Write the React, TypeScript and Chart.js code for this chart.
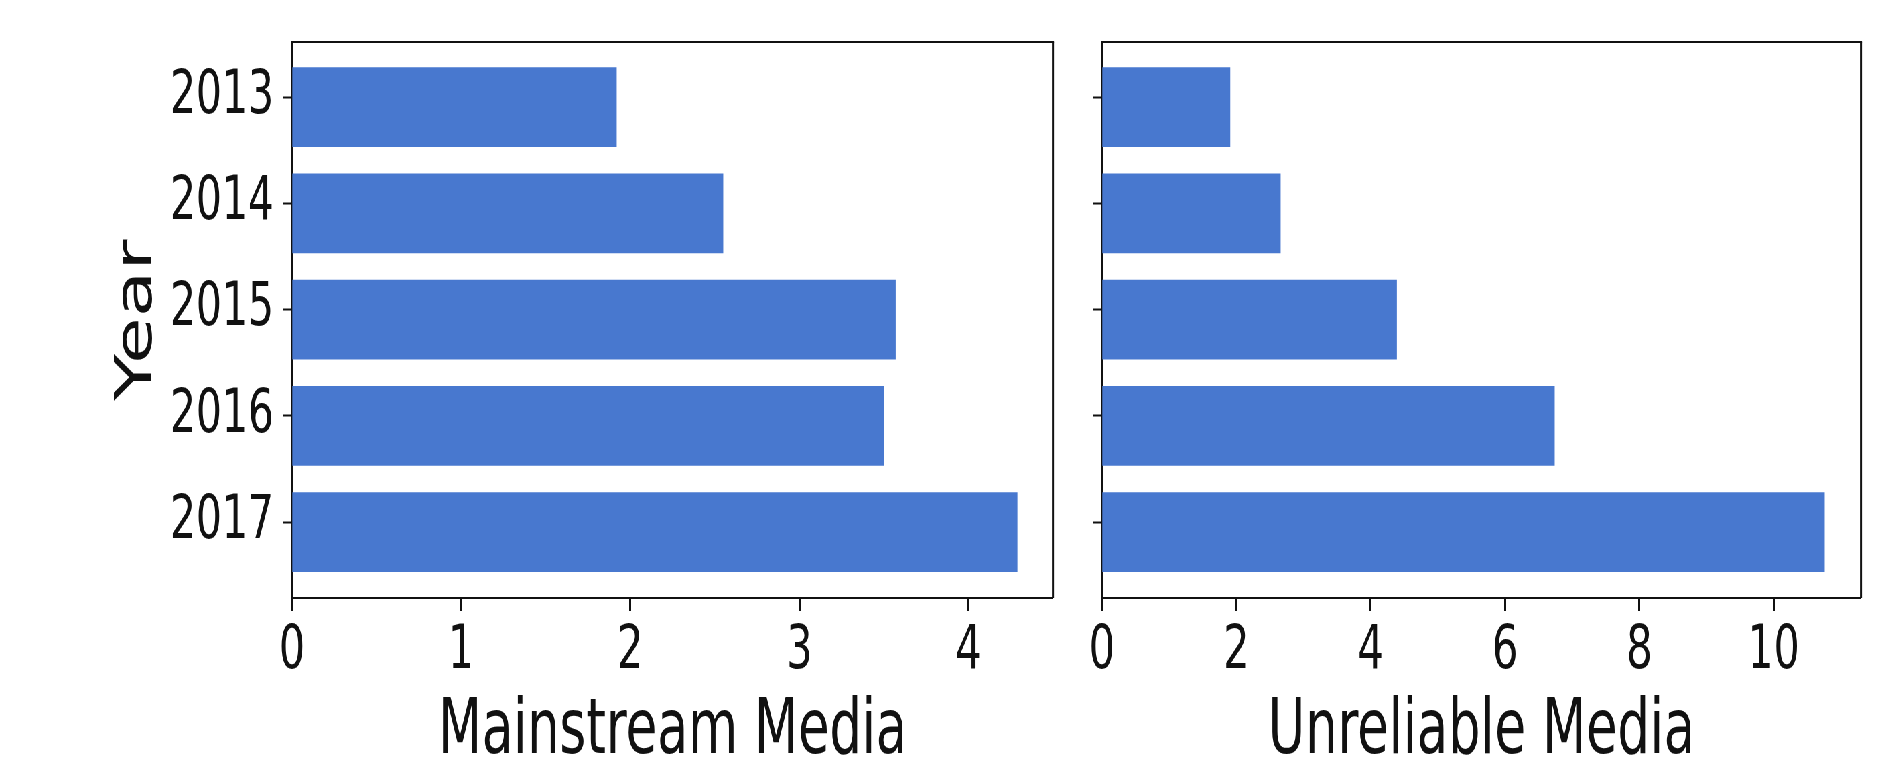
import React, { useEffect, useRef } from 'react';
import { Chart, registerables } from 'chart.js';

Chart.register(...registerables);

// ---- data ----
const years = ['2013', '2014', '2015', '2016', '2017'];
const mainstreamValues = [1.92, 2.55, 3.57, 3.5, 4.29];
const unreliableValues = [1.91, 2.66, 4.39, 6.74, 10.76];
const mainstreamTickValues = [0, 1, 2, 3, 4];
const unreliableTickValues = [0, 2, 4, 6, 8, 10];
const mainstreamMax = 4.5;
const unreliableMax = 11.3;
const yMin = -0.612;
const yMax = 4.62;
const yTickShift = 0.094;

// ---- layout (drawing units; the whole figure is squeezed horizontally) ----
const SQUEEZE = 0.67;
const FULL_W = 1887;
const FULL_H = 773;
const DRAW_W = Math.ceil(FULL_W / SQUEEZE);
const PLOT_TOP = 42;
const PLOT_BOTTOM = 598;
const LEFT_PLOT_L = 292 / SQUEEZE;
const LEFT_PLOT_R = 1053 / SQUEEZE;
const RIGHT_PLOT_L = 1102 / SQUEEZE;
const RIGHT_PLOT_R = 1861 / SQUEEZE;
const SPLIT = 1600;

const BAR_COLOR = '#4878CF';
const INK = '#111111';
const FONT = 'DejaVu Sans';

const framePlugin = {
  id: 'frame',
  afterDraw(chart: any) {
    const { ctx, chartArea } = chart;
    const { left, top, right, bottom } = chartArea;
    ctx.save();
    ctx.strokeStyle = INK;
    ctx.lineWidth = 2;
    ctx.beginPath();
    ctx.moveTo(left - 1.5, top);
    ctx.lineTo(right + 1.5, top);
    ctx.stroke();
    ctx.lineWidth = 3;
    ctx.beginPath();
    ctx.moveTo(right, top);
    ctx.lineTo(right, bottom);
    ctx.stroke();
    ctx.restore();
  },
};

function makeConfig(
  values: number[],
  tickValues: number[],
  xMax: number,
  title: string,
  showY: boolean,
  yWidth: number,
  padRight: number
): any {
  return {
    type: 'bar',
    data: {
      datasets: [
        {
          data: values.map((v, i) => ({ x: v, y: i })),
          backgroundColor: BAR_COLOR,
          borderWidth: 0,
          categoryPercentage: 1,
          barPercentage: 0.75,
        },
      ],
    },
    options: {
      indexAxis: 'y',
      animation: false,
      responsive: false,
      devicePixelRatio: 1,
      layout: { padding: { top: PLOT_TOP, right: padRight, bottom: 0, left: 0 } },
      plugins: { legend: { display: false }, tooltip: { enabled: false } },
      scales: {
        x: {
          type: 'linear',
          position: 'bottom',
          min: 0,
          max: xMax,
          offset: false,
          afterBuildTicks: (scale: any) => {
            scale.ticks = tickValues.map((v) => ({ value: v }));
          },
          afterFit: (scale: any) => {
            scale.height = FULL_H - PLOT_BOTTOM;
            scale.paddingLeft = 0;
            scale.paddingRight = 0;
          },
          ticks: {
            color: INK,
            font: { family: FONT, size: 61 },
            padding: 5,
            maxRotation: 0,
            autoSkip: false,
          },
          grid: {
            display: true,
            offset: false,
            drawOnChartArea: false,
            drawTicks: true,
            tickLength: 13,
            tickWidth: 3,
            tickColor: INK,
          },
          border: { display: true, color: INK, width: 2 },
          title: {
            display: true,
            text: title,
            color: INK,
            font: { family: FONT, size: 76, lineHeight: 1 },
            padding: { top: 0, bottom: 2 },
          },
        },
        y: {
          type: 'linear',
          position: 'left',
          reverse: true,
          offset: false,
          min: yMin,
          max: yMax,
          afterBuildTicks: (scale: any) => {
            scale.ticks = years.map((_, i) => ({ value: i - yTickShift }));
          },
          afterFit: (scale: any) => {
            scale.width = yWidth;
            scale.paddingTop = 0;
            scale.paddingBottom = 0;
          },
          ticks: {
            display: showY,
            color: INK,
            font: { family: FONT, size: 61 },
            padding: 14,
            autoSkip: false,
            callback: (value: number) => years[Math.round(value + yTickShift)],
          },
          grid: {
            display: true,
            offset: false,
            drawOnChartArea: false,
            drawTicks: true,
            tickLength: 13,
            tickWidth: 2,
            tickColor: INK,
          },
          border: { display: true, color: INK, width: 3 },
          title: {
            display: showY,
            text: 'Year',
            color: INK,
            font: { family: FONT, size: 76, lineHeight: 1 },
            padding: { top: 168, bottom: 0 },
          },
        },
      },
    },
    plugins: [framePlugin],
  };
}

function BarPanel(props: {
  values: number[];
  tickValues: number[];
  xMax: number;
  title: string;
  showY: boolean;
  x: number;
  width: number;
  plotL: number;
  plotR: number;
}) {
  const ref = useRef<HTMLCanvasElement | null>(null);
  useEffect(() => {
    if (!ref.current) return;
    const cfg = makeConfig(
      props.values,
      props.tickValues,
      props.xMax,
      props.title,
      props.showY,
      props.plotL - props.x,
      props.x + props.width - props.plotR
    );
    const chart = new Chart(ref.current, cfg);
    return () => chart.destroy();
  }, []);
  return (
    <canvas
      ref={ref}
      width={props.width}
      height={FULL_H}
      style={{
        position: 'absolute',
        left: props.x,
        top: 0,
        width: props.width,
        height: FULL_H,
      }}
    />
  );
}

export default function App() {
  return (
    <div
      style={{
        position: 'fixed',
        left: 0,
        top: 0,
        width: FULL_W,
        height: FULL_H,
        overflow: 'hidden',
        background: '#ffffff',
      }}
    >
      <div
        style={{
          position: 'absolute',
          left: 0,
          top: 0,
          width: DRAW_W,
          height: FULL_H,
          transform: `scaleX(${SQUEEZE})`,
          transformOrigin: '0 0',
        }}
      >
        <BarPanel
          values={mainstreamValues}
          tickValues={mainstreamTickValues}
          xMax={mainstreamMax}
          title="Mainstream Media"
          showY={true}
          x={0}
          width={SPLIT}
          plotL={LEFT_PLOT_L}
          plotR={LEFT_PLOT_R}
        />
        <BarPanel
          values={unreliableValues}
          tickValues={unreliableTickValues}
          xMax={unreliableMax}
          title="Unreliable Media"
          showY={false}
          x={SPLIT}
          width={DRAW_W - SPLIT}
          plotL={RIGHT_PLOT_L}
          plotR={RIGHT_PLOT_R}
        />
      </div>
    </div>
  );
}
